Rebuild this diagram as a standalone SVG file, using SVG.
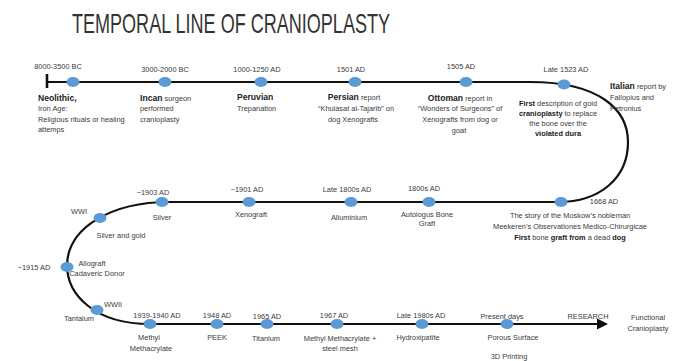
<svg xmlns="http://www.w3.org/2000/svg" width="682" height="361" viewBox="0 0 682 361">
<style>
text{font-family:"Liberation Sans",Arial,sans-serif;fill:#3a3a3a;font-size:7.4px}
.m{text-anchor:middle}
.b{font-weight:bold;font-size:8.6px;fill:#222}
.bs{font-weight:bold;fill:#222}
.title{font-size:28px;fill:#333;font-weight:300}
.ln{fill:none;stroke:#111;stroke-width:2.2}
.node{fill:#5b9bd5}
</style>
<rect width="682" height="361" fill="#fff"/>
<text class="title" x="72" y="33" textLength="318" lengthAdjust="spacingAndGlyphs" font-family="'Open Sans','Liberation Sans',sans-serif">TEMPORAL LINE OF CRANIOPLASTY</text>

<g id="connectors">
  <line x1="47" y1="74" x2="47" y2="88" stroke="#111" stroke-width="2.6"/>
  <path class="ln" d="M47,82 H530 C600,82 628,110 628,142 C628,178 600,202 558,202 H170 C110,202 68,228 67,265 C67,295 95,324 150,324"/>
  <path class="ln" stroke-width="3" d="M148,324 H599"/>
  <polygon points="597,318.5 608,324 597,329.5" fill="#111"/>
</g>

<g id="n-neolithic">
  <ellipse class="node" cx="73" cy="82" rx="6.5" ry="5"/>
  <text class="m" x="58" y="69">8000-3500 BC</text>
  <text class="b" x="38" y="101">Neolithic,</text>
  <text x="38" y="111">Iron Age:</text>
  <text x="38" y="122">Religious rituals or healing</text>
  <text x="38" y="132">attemps</text>
</g>
<g id="n-incan">
  <ellipse class="node" cx="165" cy="82" rx="6.5" ry="5"/>
  <text class="m" x="165" y="72">3000-2000 BC</text>
  <text x="140" y="101"><tspan class="b">Incan</tspan> surgeon</text>
  <text x="140" y="111">performed</text>
  <text x="140" y="122">cranioplasty</text>
</g>
<g id="n-peruvian">
  <ellipse class="node" cx="261" cy="82" rx="6.5" ry="5"/>
  <text class="m" x="257" y="72">1000-1250 AD</text>
  <text class="b" x="237" y="100">Peruvian</text>
  <text x="237" y="111">Trepanation</text>
</g>
<g id="n-persian">
  <ellipse class="node" cx="355" cy="82" rx="6.5" ry="5"/>
  <text class="m" x="351" y="72">1501 AD</text>
  <text class="m" x="354" y="100"><tspan class="b">Persian</tspan> report</text>
  <text class="m" x="356" y="111">“Khulasat al-Tajarib” on</text>
  <text class="m" x="353" y="122">dog Xenografts</text>
</g>
<g id="n-ottoman">
  <ellipse class="node" cx="466" cy="82" rx="6.5" ry="5"/>
  <text class="m" x="461" y="69">1505 AD</text>
  <text class="m" x="460" y="101"><tspan class="b">Ottoman</tspan> report in</text>
  <text class="m" x="460" y="111">“Wonders of Surgeons” of</text>
  <text class="m" x="460" y="122">Xenografts from dog or</text>
  <text class="m" x="459" y="133">goat</text>
</g>
<g id="n-1523">
  <ellipse class="node" cx="564" cy="84.5" rx="6.5" ry="5"/>
  <text class="m" x="566" y="72">Late 1523 AD</text>
  <text class="m" x="558" y="105.5"><tspan class="bs">First</tspan> description of gold</text>
  <text class="m" x="558" y="115.5"><tspan class="bs">cranioplasty</tspan> to replace</text>
  <text class="m" x="558" y="125.5">the bone over the</text>
  <text class="m bs" x="558" y="136">violated dura</text>
  <text x="610" y="89"><tspan class="b">Italian</tspan> report by</text>
  <text x="610" y="100">Fallopius and</text>
  <text x="610" y="111">Petronius</text>
</g>
<g id="n-1668">
  <ellipse class="node" cx="561" cy="202" rx="6.5" ry="5"/>
  <text class="m" x="604" y="204">1668 AD</text>
  <text class="m" x="570" y="217.5">The story of the Moskow’s  nobleman</text>
  <text class="m" x="570" y="228.5">Meekeren’s Observationes Medico-Chirurgicae</text>
  <text class="m" x="570" y="239.5"><tspan class="bs">First</tspan> bone <tspan class="bs">graft from</tspan> a dead <tspan class="bs">dog</tspan></text>
</g>
<g id="n-1800s">
  <ellipse class="node" cx="429" cy="202" rx="6.5" ry="5"/>
  <text class="m" x="424" y="191">1800s AD</text>
  <text class="m" x="427" y="216.5">Autologus Bone</text>
  <text class="m" x="427" y="226">Graft</text>
</g>
<g id="n-late1800s">
  <ellipse class="node" cx="351" cy="202" rx="6.5" ry="5"/>
  <text class="m" x="347" y="191.5">Late 1800s AD</text>
  <text class="m" x="349" y="219.5">Alluminium</text>
</g>
<g id="n-1901">
  <ellipse class="node" cx="249" cy="202" rx="6.5" ry="5"/>
  <text class="m" x="247" y="191.5">~1901 AD</text>
  <text class="m" x="251" y="217">Xenograft</text>
</g>
<g id="n-1903">
  <ellipse class="node" cx="162" cy="202" rx="6.5" ry="5"/>
  <text class="m" x="153" y="194.5">~1903 AD</text>
  <text class="m" x="162" y="219.5">Silver</text>
</g>
<g id="n-wwi">
  <ellipse class="node" cx="100" cy="218" rx="6.5" ry="5"/>
  <text class="m" x="79" y="213.5">WWI</text>
  <text class="m" x="121" y="237.5">Silver and gold</text>
</g>
<g id="n-1915">
  <ellipse class="node" cx="67" cy="267" rx="6.5" ry="5"/>
  <text class="m" x="34" y="269.5">~1915 AD</text>
  <text class="m" x="92" y="265.5">Allograft</text>
  <text class="m" x="97" y="276">Cadaveric Donor</text>
</g>
<g id="n-wwii">
  <ellipse class="node" cx="97" cy="310" rx="6.5" ry="5"/>
  <text class="m" x="113" y="307">WWII</text>
  <text class="m" x="79" y="320.5">Tantalum</text>
</g>
<g id="n-1939">
  <ellipse class="node" cx="150" cy="324" rx="6.5" ry="5"/>
  <text class="m" x="157" y="317.5">1939-1940 AD</text>
  <text class="m" x="149" y="339.5">Methyl</text>
  <text class="m" x="151" y="350.5">Methacrylate</text>
</g>
<g id="n-1948">
  <ellipse class="node" cx="217" cy="324" rx="6.5" ry="5"/>
  <text class="m" x="217" y="317.5">1948 AD</text>
  <text class="m" x="217" y="339.5">PEEK</text>
</g>
<g id="n-1965">
  <ellipse class="node" cx="267" cy="324" rx="6.5" ry="5"/>
  <text class="m" x="267" y="318.5">1965 AD</text>
  <text class="m" x="266" y="340.5">Titanium</text>
</g>
<g id="n-1967">
  <ellipse class="node" cx="337" cy="324" rx="6.5" ry="5"/>
  <text class="m" x="334" y="318">1967 AD</text>
  <text class="m" x="340" y="340.5">Methyl Methacrylate +</text>
  <text class="m" x="340" y="350.5">steel mesh</text>
</g>
<g id="n-1980s">
  <ellipse class="node" cx="422" cy="324" rx="6.5" ry="5"/>
  <text class="m" x="421" y="318">Late 1980s AD</text>
  <text class="m" x="418" y="339.5">Hydroxipatite</text>
</g>
<g id="n-present">
  <ellipse class="node" cx="507" cy="324" rx="6.5" ry="5"/>
  <text class="m" x="502" y="319">Present days</text>
  <text class="m" x="513" y="339.5">Porous Surface</text>
  <text class="m" x="509" y="359">3D Printing</text>
</g>
<g id="n-research">
  <text class="m" x="588" y="318.5">RESEARCH</text>
  <text class="m" x="648" y="319.5">Functional</text>
  <text class="m" x="648" y="330.5">Cranioplasty</text>
</g>
</svg>
